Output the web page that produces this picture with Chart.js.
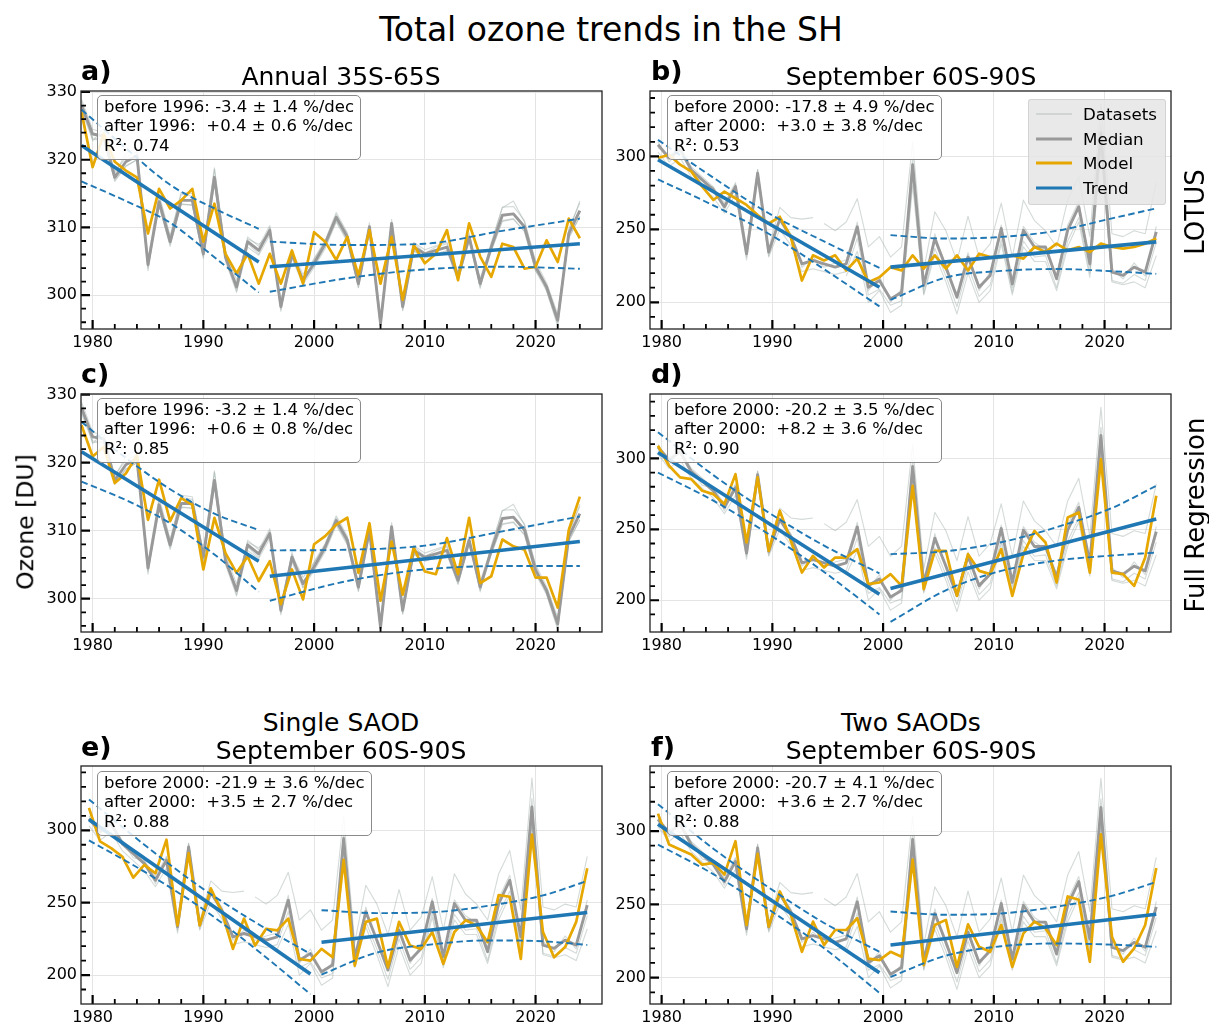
<!DOCTYPE html>
<html><head><meta charset="utf-8">
<script src="https://cdn.jsdelivr.net/npm/chart.js@4.4.1/dist/chart.umd.min.js"></script>
<style>
body{margin:0;background:#fff;width:1209px;height:1025px;position:relative;overflow:hidden;font-family:"DejaVu Sans",sans-serif;color:#000;}
canvas{position:absolute;}
.t{position:absolute;white-space:nowrap;transform:translate(-50%,-50%);line-height:1;}
.pl{position:absolute;white-space:nowrap;font-weight:bold;font-size:27px;line-height:1;transform:translateY(-50%);}
.rot{position:absolute;white-space:nowrap;line-height:1;transform:translate(-50%,-50%) rotate(-90deg);}
.box{position:absolute;border:1px solid #8a8a8a;border-radius:5px;background:rgba(255,255,255,0.85);font-size:16.5px;line-height:19.3px;padding:1px 6px 4px 6px;white-space:pre;z-index:5;}
.leg{position:absolute;left:1028px;top:99px;width:136px;height:104px;background:rgba(229,229,229,0.85);border:1px solid rgba(210,210,210,0.9);border-radius:3px;z-index:5;}
.leg div{position:absolute;left:54px;font-size:16.7px;line-height:1;transform:translateY(-50%);}
.leg span{position:absolute;left:7px;width:36px;transform:translateY(-50%);}
</style></head><body>
<canvas id="ca" width="593" height="288" style="left:21px;top:71px"></canvas>
<canvas id="cb" width="593" height="288" style="left:590px;top:71px"></canvas>
<canvas id="cc" width="593" height="288" style="left:21px;top:374px"></canvas>
<canvas id="cd" width="593" height="288" style="left:590px;top:374px"></canvas>
<canvas id="ce" width="593" height="288" style="left:21px;top:746px"></canvas>
<canvas id="cf" width="593" height="288" style="left:590px;top:746px"></canvas>

<div class="t" style="left:611px;top:29px;font-size:33px">Total ozone trends in the SH</div>
<div class="t" style="left:341px;top:76px;font-size:25px">Annual 35S-65S</div>
<div class="t" style="left:911px;top:76px;font-size:25px">September 60S-90S</div>
<div class="t" style="left:341px;top:722px;font-size:25px">Single SAOD</div>
<div class="t" style="left:341px;top:750px;font-size:25px">September 60S-90S</div>
<div class="t" style="left:911px;top:722px;font-size:25px">Two SAODs</div>
<div class="t" style="left:911px;top:750px;font-size:25px">September 60S-90S</div>
<div class="pl" style="left:81px;top:70px">a)</div>
<div class="pl" style="left:651px;top:70px">b)</div>
<div class="pl" style="left:81px;top:373px">c)</div>
<div class="pl" style="left:651px;top:373px">d)</div>
<div class="pl" style="left:81px;top:746px">e)</div>
<div class="pl" style="left:651px;top:746px">f)</div>
<div class="rot" style="left:1195px;top:212px;font-size:26px">LOTUS</div>
<div class="rot" style="left:1195px;top:515px;font-size:26px">Full Regression</div>
<div class="rot" style="left:26px;top:522px;font-size:23.5px">Ozone [DU]</div>

<div class="box" style="left:97px;top:95px">before 1996: -3.4 ± 1.4 %/dec
after 1996:  +0.4 ± 0.6 %/dec
R²: 0.74</div>
<div class="box" style="left:667px;top:95px">before 2000: -17.8 ± 4.9 %/dec
after 2000:  +3.0 ± 3.8 %/dec
R²: 0.53</div>
<div class="box" style="left:97px;top:398px">before 1996: -3.2 ± 1.4 %/dec
after 1996:  +0.6 ± 0.8 %/dec
R²: 0.85</div>
<div class="box" style="left:667px;top:398px">before 2000: -20.2 ± 3.5 %/dec
after 2000:  +8.2 ± 3.6 %/dec
R²: 0.90</div>
<div class="box" style="left:97px;top:771px">before 2000: -21.9 ± 3.6 %/dec
after 2000:  +3.5 ± 2.7 %/dec
R²: 0.88</div>
<div class="box" style="left:667px;top:771px">before 2000: -20.7 ± 4.1 %/dec
after 2000:  +3.6 ± 2.7 %/dec
R²: 0.88</div>

<div class="leg">
<span style="top:14px;border-top:1px solid rgba(150,165,160,0.6)"></span><div style="top:14px">Datasets</div>
<span style="top:39px;border-top:3px solid #999"></span><div style="top:39px">Median</div>
<span style="top:63px;border-top:3px solid #e6a800"></span><div style="top:63px">Model</div>
<span style="top:88px;border-top:3.5px solid #1f77b4"></span><div style="top:88px">Trend</div>
</div>

<script>
// ---------- axes / ticks ----------
const X_MIN = 1978.95, X_MAX = 2026;
const SEP_OFFSET = 0.67;
const xMajorTicks = [1980, 1990, 2000, 2010, 2020];
const xMinorTicks = [1982,1984,1986,1988,1992,1994,1996,1998,2002,2004,2006,2008,2012,2014,2016,2018,2022,2024];
const annMajorTicks = [300, 310, 320, 330];
const annMinorTicks = [296,298,302,304,306,308,312,314,316,318,322,324,326,328];
const sepMajorTicks = [200, 250, 300];
const sepMinorTicks = [190,210,220,230,240,260,270,280,290,310,320,330,340];

// ---------- years ----------
const years = [1979,1980,1981,1982,1983,1984,1985,1986,1987,1988,1989,1990,1991,1992,1993,1994,1995,1996,1997,1998,1999,2000,2001,2002,2003,2004,2005,2006,2007,2008,2009,2010,2011,2012,2013,2014,2015,2016,2017,2018,2019,2020,2021,2022,2023,2024];

// ---------- annual 35S-65S ----------
const annMedian = [328.0,323.8,323.5,317.4,319.7,320.6,304.5,313.8,307.9,314.0,314.0,306.1,317.4,305.6,301.2,307.9,306.6,309.6,298.3,306.1,302.2,304.7,307.6,311.5,308.6,301.7,310.1,295.8,310.6,298.3,307.1,306.1,306.6,307.1,302.7,308.6,301.7,307.1,311.8,312.0,310.1,304.2,301.2,296.3,309.1,312.5];
const annData1 = [328.9,324.5,324.0,318.2,320.3,321.2,303.6,314.5,308.6,314.9,314.6,306.9,318.6,306.2,300.6,308.6,307.2,310.3,297.6,306.8,301.6,305.4,308.1,312.2,309.2,301.1,310.7,295.1,311.2,297.7,307.8,306.7,307.3,307.8,303.3,309.2,301.0,307.8,313.0,313.1,311.0,304.9,300.6,295.4,309.8,313.6];
const annData2 = [327.2,323.0,322.9,316.8,319.0,320.0,304.0,313.2,307.2,313.4,313.3,305.4,316.6,305.0,300.4,307.1,305.9,308.9,297.9,305.4,301.6,304.1,306.9,310.8,307.9,301.1,309.4,295.3,309.9,297.8,306.5,305.5,306.0,306.5,302.1,308.0,301.2,306.5,310.9,311.2,309.4,303.6,300.6,295.8,308.5,311.6];
const annData3 = [328.6,322.8,324.6,317.9,320.9,321.8,305.3,314.9,308.7,315.2,315.0,307.0,318.8,306.4,302.2,308.3,307.5,309.0,299.2,306.5,303.1,305.3,307.9,311.9,309.0,302.4,310.2,296.7,310.3,299.0,307.7,306.2,307.1,307.6,303.4,308.7,302.5,307.5,312.9,313.9,310.8,305.0,301.8,297.2,309.5,313.9];
const annData4 = [327.5,323.2,323.0,317.0,319.1,320.0,305.0,313.2,307.5,313.5,313.3,305.7,316.7,305.4,301.7,307.6,306.1,310.0,298.9,305.7,302.6,304.3,307.2,311.0,308.1,302.2,309.6,296.5,310.0,298.9,306.6,305.6,306.1,306.6,302.2,308.0,302.3,306.6,311.0,311.3,309.4,303.6,301.3,296.9,308.4,311.6];
const modelA = [327.0,318.9,323.8,319.7,318.4,317.4,309.1,315.7,312.8,314.0,315.7,307.9,313.5,306.1,303.2,306.1,301.7,306.1,301.7,306.6,301.7,309.3,307.9,305.2,308.6,302.9,309.6,301.7,308.6,299.3,307.4,304.7,306.1,309.6,302.2,310.6,305.7,302.7,307.6,307.1,303.9,304.2,308.1,304.9,311.3,308.4];
const modelC = [325.5,320.9,322.3,317.0,318.4,321.1,311.6,317.5,311.4,314.8,313.8,304.3,311.9,306.7,303.8,306.2,302.6,305.5,299.2,304.3,299.9,308.0,309.2,310.9,311.9,303.8,311.1,299.7,308.4,300.6,307.5,304.0,303.6,308.9,303.6,311.9,302.3,303.3,308.7,307.7,307.2,303.1,303.1,298.7,310.1,315.0];

// ---------- September 60S-90S ----------
const sepMedian = [308.0,298.9,304.6,290.8,283.9,277.0,265.5,279.3,233.3,288.5,234.5,257.0,244.8,226.4,228.7,226.4,224.1,226.4,251.7,210.3,214.9,202.3,206.9,294.3,211.5,243.7,224.1,203.4,231.0,210.3,218.4,250.6,212.6,249.4,237.9,237.9,216.1,249.4,265.5,226.4,316.1,220.7,218.4,224.1,220.7,248.3];
const sepData1 = [310,296,306,292,281,279,263,281,231,291,232,258,247,224,231,224,227,229,255,208,218,200,209,299,209,247,222,206,234,208,221,253,210,252,241,236,219,253,269,224,322,223,216,227,218,252];
const sepData2 = [303,293,299,286,279,272,261,274,229,283,231,250,239,221,223,221,219,221,244,205,209,198,201,286,206,237,218,197,225,204,212,243,207,242,231,232,210,242,258,220,306,215,213,219,215,241];
const sepData3 = [306,301,306,293,286,279,268,282,237,291,237,265,258,257,258,null,null,null,null,null,null,null,null,null,null,null,null,null,null,null,null,null,null,null,null,null,null,null,null,null,null,null,null,null,null,null];
const sepData4 = [null,null,null,null,null,null,null,null,null,null,null,null,null,null,null,254,249,255,271,238,245,231,238,310,222,262,249,228,259,231,240,268,231,270,256,249,238,270,286,245,336,247,245,249,247,282];
const sepData5 = [null,null,null,null,null,null,null,null,null,null,null,null,null,null,null,null,null,218,235,200,208,193,198,280,205,233,214,192,220,200,208,240,205,238,228,228,208,238,255,217,305,214,212,214,210,232];
const modelB = [298.9,301.1,294.3,289.7,279.3,270.1,275.9,271.3,266.7,259.8,254.0,258.6,244.8,214.9,232.2,228.7,232.2,221.8,229.9,213.8,217.2,224.1,221.8,232.2,223.0,232.2,223.0,232.2,221.8,233.3,231.0,231.0,232.2,229.9,237.9,234.5,240.2,235.6,237.9,234.5,240.2,237.9,236.8,237.9,240.2,243.7];
const modelD = [308.9,294.8,286.6,285.4,277.2,274.8,267.8,288.9,240.7,286.6,234.8,263.1,241.9,219.5,231.3,223.1,230.1,230.1,236.0,211.3,212.5,218.4,210.1,280.7,207.8,234.8,234.8,203.1,232.5,220.7,218.4,236.0,203.1,232.5,248.9,240.7,212.5,258.4,261.9,219.5,299.5,219.5,218.4,210.1,230.1,273.6];
const modelE = [315.5,292.3,287.7,281.9,267.3,276.1,270.3,293.5,234.3,284.2,234.3,259.9,243.6,218.1,239.0,220.4,232.0,230.9,239.0,211.1,210.0,218.1,212.3,279.6,206.5,236.7,239.0,205.3,236.7,220.4,218.1,229.7,207.7,229.7,237.8,234.3,222.7,255.2,254.1,211.1,297.0,229.7,212.3,219.3,236.7,273.8];
const modelF = [311.9,290.8,287.4,284.0,277.1,278.3,270.3,293.1,235.9,284.4,234.8,258.8,242.8,217.6,238.2,222.2,232.5,232.5,240.5,213.0,211.9,217.6,214.2,280.5,208.5,235.9,239.4,207.3,236.4,221.0,217.6,235.9,207.3,230.2,238.2,233.6,222.2,255.4,253.1,210.8,297.7,227.9,210.8,219.9,235.9,274.8];

// ---------- trends (year, DU) ----------
const trendA_pre = [[1979,322.1],[1995,304.9]];
const trendA_post = [[1996,304.2],[2024,307.6]];
const trendC_pre = [[1979,321.6],[1995,305.5]];
const trendC_post = [[1996,303.3],[2024,308.4]];
const trendB_pre = [[1979,297.7],[1999,210.3]];
const trendB_post = [[2000,224.1],[2024,241.4]];
const trendD_pre = [[1979,304.2],[1999,204.2]];
const trendD_post = [[2000,208.2],[2024,257.2]];
const trendE_pre = [[1979,307.4],[1999,200.7]];
const trendE_post = [[2000,222.7],[2024,243.2]];
const trendF_pre = [[1979,304.6],[1999,203.4]];
const trendF_post = [[2000,222.2],[2024,243.2]];

// ---------- confidence bands ----------
const ciYearsAnnPre = [1979,1983,1987,1991,1995];
const ciYearsAnnPost = [1996,2003,2010,2017,2024];
const ciYearsSepPre = [1979,1984,1989,1994,1999];
const ciYearsSepPost = [2000,2005,2010,2015,2020,2024];
const ciA_pre_up = [327.4,321.7,316.3,312.8,309.8];
const ciA_pre_lo = [316.8,313.9,310.7,305.6,300.4];
const ciA_post_up = [307.9,307.4,307.6,309.5,311.3];
const ciA_post_lo = [300.5,302.5,303.8,304.2,303.9];
const ciC_pre_up = [326.0,320.7,316.1,312.5,310.1];
const ciC_pre_lo = [317.2,314.5,311.1,306.5,301.0];
const ciC_post_up = [307.1,307.2,307.8,309.9,312.1];
const ciC_post_lo = [299.7,302.6,304.3,304.8,304.8];
const ciB_pre_up = [311.3,285.4,261.0,241.7,223.6];
const ciB_pre_lo = [284.3,266.4,247.0,222.7,197.2];
const ciB_post_up = [246.0,243.7,244.8,249.0,257.5,264.4];
const ciB_post_lo = [201.6,217.0,221.5,222.8,221.3,219.5];
const ciD_pre_up = [318.5,288.2,261.8,238.5,219.0];
const ciD_pre_lo = [290.0,270.2,246.6,219.9,190.0];
const ciD_post_up = [232.5,234.5,240.9,251.5,265.0,280.7];
const ciD_post_lo = [184.7,207.0,220.7,228.0,231.5,233.6];
const ciE_pre_up = [321.3,290.0,261.1,236.5,214.6];
const ciE_pre_lo = [293.0,271.4,247.1,218.3,186.8];
const ciE_post_up = [244.8,242.8,243.4,247.8,255.0,265.0];
const ciE_post_lo = [200.3,215.5,221.2,223.9,223.3,220.8];
const ciF_pre_up = [318.3,288.0,261.5,237.3,217.6];
const ciF_pre_lo = [290.8,270.6,246.5,220.1,189.6];
const ciF_post_up = [245.1,242.9,243.8,248.4,255.8,265.2];
const ciF_post_lo = [200.5,215.0,221.4,223.3,222.5,221.0];

// ---------- styles ----------
const C_DATA = 'rgba(150,168,162,0.42)';
const C_MED = '#999999';
const C_MODEL = '#e6a800';
const C_TREND = '#1f77b4';

Chart.defaults.font.family = '"DejaVu Sans", sans-serif';
Chart.defaults.font.size = 16;
Chart.defaults.color = '#000';

const PADL = 60, PADT = 20, PADR = 12, PADB = 30;

function pts(xs, ys, off) { return xs.map((x, i) => ({x: x + off, y: ys[i]})); }
function pairPts(pairs, off) { return pairs.map(p => ({x: p[0] + off, y: p[1]})); }

function ds(data, color, width, order, extra) {
  return Object.assign({data, borderColor: color, borderWidth: width, pointRadius: 0, fill: false,
    tension: 0, spanGaps: false, order, borderCapStyle: 'butt', borderJoinStyle: 'round'}, extra || {});
}

const frame = {
  id: 'frame',
  afterDatasetsDraw(chart, args, o) {
    const {ctx, chartArea: a, scales: {x, y}} = chart;
    ctx.save();
    ctx.strokeStyle = '#000';
    ctx.lineCap = 'butt';
    const tx = (vals, len, w) => { ctx.lineWidth = w; ctx.beginPath();
      vals.forEach(v => { const p = x.getPixelForValue(v); ctx.moveTo(p, a.bottom); ctx.lineTo(p, a.bottom - len); }); ctx.stroke(); };
    const ty = (vals, len, w) => { ctx.lineWidth = w; ctx.beginPath();
      vals.forEach(v => { if (v < y.min || v > y.max) return; const p = y.getPixelForValue(v); ctx.moveTo(a.left, p); ctx.lineTo(a.left + len, p); }); ctx.stroke(); };
    tx(xMajorTicks, 9, 2.2); tx(xMinorTicks, 5, 1.8);
    ty(o.yMajor, 9, 2.2); ty(o.yMinor, 5, 1.8);
    ctx.lineWidth = 1.3;
    ctx.strokeStyle = '#222';
    ctx.strokeRect(a.left, a.top, a.right - a.left, a.bottom - a.top);
    ctx.restore();
  }
};

function makePanel(id, yMin, yMax, yMajor, yMinor, datasets) {
  return new Chart(document.getElementById(id), {
    type: 'line',
    data: {datasets},
    options: {
      responsive: false, animation: false, events: [],
      layout: {padding: {top: PADT, right: PADR, left: 0, bottom: 0}},
      plugins: {legend: {display: false}, tooltip: {enabled: false}, title: {display: false},
        frame: {yMajor, yMinor}},
      scales: {
        x: {type: 'linear', min: X_MIN, max: X_MAX,
          grid: {color: '#e4e4e4', lineWidth: 1, drawTicks: false},
          border: {display: false},
          ticks: {padding: 4, maxRotation: 0, autoSkip: false, callback: v => String(v)},
          afterBuildTicks: s => { s.ticks = xMajorTicks.map(v => ({value: v})); },
          afterFit: s => { s.height = PADB; }},
        y: {type: 'linear', min: yMin, max: yMax,
          grid: {color: '#e4e4e4', lineWidth: 1, drawTicks: false},
          border: {display: false},
          ticks: {padding: 4, autoSkip: false, callback: v => String(v)},
          afterBuildTicks: s => { s.ticks = yMajor.map(v => ({value: v})); },
          afterFit: s => { s.width = PADL; }}
      }
    },
    plugins: [frame]
  });
}

function buildSets(off, median, dataSets, model, tPre, tPost, ciPreYears, ciPostYears, preUp, preLo, postUp, postLo) {
  const out = [];
  const dash = {borderDash: [6.5, 3.5], cubicInterpolationMode: 'monotone'};
  out.push(ds(pairPts(tPre, off), C_TREND, 3.6, 0));
  out.push(ds(pairPts(tPost, off), C_TREND, 3.6, 0));
  out.push(ds(pts(ciPreYears, preUp, off), C_TREND, 1.9, 0, dash));
  out.push(ds(pts(ciPreYears, preLo, off), C_TREND, 1.9, 0, dash));
  out.push(ds(pts(ciPostYears, postUp, off), C_TREND, 1.9, 0, dash));
  out.push(ds(pts(ciPostYears, postLo, off), C_TREND, 1.9, 0, dash));
  out.push(ds(pts(years, model, off), C_MODEL, 2.7, 1));
  out.push(ds(pts(years, median, off), C_MED, 2.9, 2));
  dataSets.forEach(d => out.push(ds(pts(years, d, off), C_DATA, 1.1, 3)));
  return out;
}

const annSets = [annData1, annData2, annData3, annData4];
const sepSets = [sepData1, sepData2, sepData3, sepData4, sepData5];

makePanel('ca', 295.0, 330.15, annMajorTicks, annMinorTicks,
  buildSets(0, annMedian, annSets, modelA, trendA_pre, trendA_post, ciYearsAnnPre, ciYearsAnnPost, ciA_pre_up, ciA_pre_lo, ciA_post_up, ciA_post_lo));
makePanel('cc', 295.1, 330.1, annMajorTicks, annMinorTicks,
  buildSets(0, annMedian, annSets, modelC, trendC_pre, trendC_post, ciYearsAnnPre, ciYearsAnnPost, ciC_pre_up, ciC_pre_lo, ciC_post_up, ciC_post_lo));
makePanel('cb', 181.7, 344.8, sepMajorTicks, sepMinorTicks,
  buildSets(SEP_OFFSET, sepMedian, sepSets, modelB, trendB_pre, trendB_post, ciYearsSepPre, ciYearsSepPost, ciB_pre_up, ciB_pre_lo, ciB_post_up, ciB_post_lo));
makePanel('cd', 177.6, 345.4, sepMajorTicks, sepMinorTicks,
  buildSets(SEP_OFFSET, sepMedian, sepSets, modelD, trendD_pre, trendD_post, ciYearsSepPre, ciYearsSepPost, ciD_pre_up, ciD_pre_lo, ciD_post_up, ciD_post_lo));
makePanel('ce', 180.0, 344.4, sepMajorTicks, sepMinorTicks,
  buildSets(SEP_OFFSET, sepMedian, sepSets, modelE, trendE_pre, trendE_post, ciYearsSepPre, ciYearsSepPost, ciE_pre_up, ciE_pre_lo, ciE_post_up, ciE_post_lo));
makePanel('cf', 182.0, 344.4, sepMajorTicks, sepMinorTicks,
  buildSets(SEP_OFFSET, sepMedian, sepSets, modelF, trendF_pre, trendF_post, ciYearsSepPre, ciYearsSepPost, ciF_pre_up, ciF_pre_lo, ciF_post_up, ciF_post_lo));
</script>
</body></html>
